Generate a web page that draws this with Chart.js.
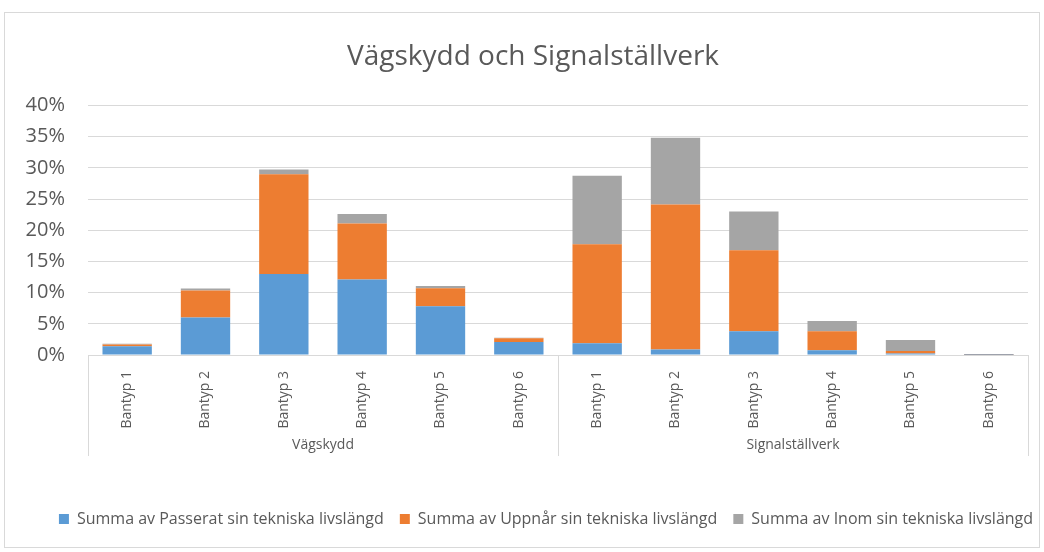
<!DOCTYPE html>
<html>
<head>
<meta charset="utf-8">
<script src="https://cdn.jsdelivr.net/npm/chart.js@4/dist/chart.umd.min.js"></script>
<style>
  html, body { margin: 0; padding: 0; background: #fff; }
  #wrap { width: 1044px; height: 552px; }
</style>
</head>
<body>
<div id="wrap"><canvas id="chart" width="1044" height="552"></canvas></div>
<script>
const categories = ['Bantyp 1', 'Bantyp 2', 'Bantyp 3', 'Bantyp 4', 'Bantyp 5', 'Bantyp 6',
	'Bantyp 1', 'Bantyp 2', 'Bantyp 3', 'Bantyp 4', 'Bantyp 5', 'Bantyp 6']
const groups = ['Vägskydd', 'Signalställverk']
const passerat = [1.4, 6.0, 13.0, 12.1, 7.8, 2.1, 1.9, 0.9, 3.8, 0.75, 0.25, 0.02]
const uppnar = [0.3, 4.35, 16.0, 9.0, 2.9, 0.6, 15.85, 23.25, 13.0, 3.05, 0.4, 0.05]
const inom = [0.1, 0.3, 0.75, 1.5, 0.35, 0.05, 11.0, 10.7, 6.2, 1.65, 1.75, 0.1]
const yTicks = [0, 5, 10, 15, 20, 25, 30, 35, 40]

const font = "'Open Sans', sans-serif"
const textColor = '#595959'
const lineColor = '#d9d9d9'

// outer frame + group labels under the category labels
const framePlugin = {
	id: 'frame',
	afterLayout(chart) {
		// excel puts title and legend a bit right of the centre
		chart.titleBlock.left += 28
		chart.legend.left += 27
		chart.legend.right += 27
	},
	beforeDraw(chart) {
		const ctx = chart.ctx
		ctx.save()
		ctx.fillStyle = '#fff'
		ctx.fillRect(0, 0, chart.width, chart.height)
		ctx.strokeStyle = lineColor
		ctx.lineWidth = 1
		ctx.strokeRect(4.5, 12.5, 1035, 535)
		ctx.restore()
	},
	afterDraw(chart) {
		const ctx = chart.ctx
		const area = chart.chartArea
		const x = chart.scales.x
		const perGroup = categories.length / groups.length
		const step = (area.right - area.left) / categories.length
		ctx.save()
		ctx.strokeStyle = lineColor
		ctx.lineWidth = 1
		for (let g = 0; g <= groups.length; g++) {
			const px = Math.round(area.left + g * perGroup * step) + 0.5
			ctx.beginPath()
			ctx.moveTo(px, area.bottom)
			ctx.lineTo(px, area.bottom + 101)
			ctx.stroke()
		}
		ctx.fillStyle = textColor
		ctx.font = '14px ' + font
		ctx.textAlign = 'center'
		ctx.textBaseline = 'middle'
		groups.forEach((name, g) => {
			const first = x.getPixelForValue(g * perGroup)
			const last = x.getPixelForValue(g * perGroup + perGroup - 1)
			ctx.fillText(name, (first + last) / 2, area.bottom + 90)
		})
		ctx.restore()
	}
}

new Chart(document.getElementById('chart'), {
	type: 'bar',
	data: {
		labels: categories,
		datasets: [
			{ label: 'Summa av Passerat sin tekniska livslängd', data: passerat, backgroundColor: '#5B9BD5' },
			{ label: 'Summa av Uppnår sin tekniska livslängd', data: uppnar, backgroundColor: '#ED7D31' },
			{ label: 'Summa av Inom sin tekniska livslängd', data: inom, backgroundColor: '#A5A5A5' }
		]
	},
	options: {
		responsive: false,
		animation: false,
		layout: { padding: { left: 10, right: 16, top: 12, bottom: 15 } },
		datasets: { bar: { barPercentage: 0.63, categoryPercentage: 1 } },
		plugins: {
			title: {
				display: true,
				text: 'Vägskydd och Signalställverk',
				color: textColor,
				font: { family: font, size: 28, weight: 'normal' },
				padding: { top: 28, bottom: 32 }
			},
			legend: {
				position: 'bottom',
				labels: {
					color: textColor,
					font: { family: font, size: 16 },
					boxWidth: 10,
					boxHeight: 10,
					padding: 16
				}
			},
			tooltip: { enabled: false }
		},
		scales: {
			x: {
				stacked: true,
				grid: { display: false },
				border: { display: true, color: lineColor },
				ticks: {
					color: textColor,
					font: { family: font, size: 14 },
					minRotation: 90,
					maxRotation: 90,
					padding: 8
				},
				afterFit(scale) { scale.height = 140 }
			},
			y: {
				stacked: true,
				min: 0,
				max: 40,
				grid: { color: lineColor, drawTicks: false },
				border: { display: false },
				afterBuildTicks(scale) { scale.ticks = yTicks.map(v => ({ value: v })) },
				ticks: {
					color: textColor,
					font: { family: font, size: 20 },
					padding: 23,
					callback: v => v + '%'
				},
				afterFit(scale) { scale.width = 78 }
			}
		}
	},
	plugins: [framePlugin]
})
</script>
</body>
</html>
